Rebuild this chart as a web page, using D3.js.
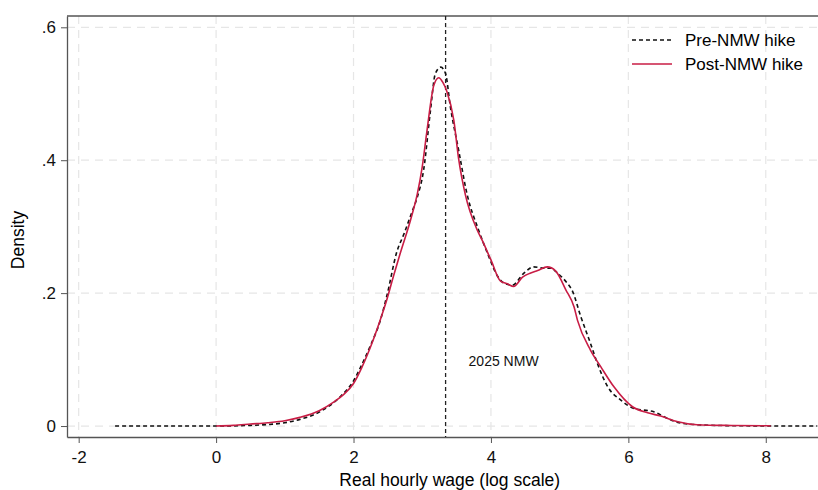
<!DOCTYPE html>
<html>
<head>
<meta charset="utf-8">
<style>
body { margin: 0; background: #fff; }
svg { display: block; font-family: "Liberation Sans", Arial, Helvetica, sans-serif; }
.grid line { stroke: #e6e6e6; stroke-width: 1.2; stroke-dasharray: 8,6; }
.axis path, .axis line { stroke: #555; }
.axis text { fill: #111; font-size: 17px; }
</style>
</head>
<body>

<svg id="chart" width="818" height="490"></svg>

<script src="https://d3js.org/d3.v7.min.js"></script>
<script>

// pre-NMW hike density (black dashed)
var preWage = [-1.47, -1, -0.5, 0, 0.5, 1.0, 1.22, 1.52, 1.81, 2.0, 2.1, 2.25, 2.39, 2.49, 2.63, 2.73, 2.85, 2.93, 3.02, 3.12, 3.19, 3.27, 3.34, 3.41, 3.53, 3.65, 3.82, 3.95, 4.1, 4.19, 4.31, 4.48, 4.62, 4.77, 4.87, 4.97, 5.11, 5.18, 5.31, 5.45, 5.55, 5.7, 5.89, 6.08, 6.37, 6.57, 6.72, 7.0, 7.5, 8.0, 8.75];
var preDensity = [0, 0, 0, 0, 0.001, 0.005, 0.01, 0.022, 0.0445, 0.068, 0.088, 0.122, 0.159, 0.198, 0.262, 0.288, 0.322, 0.345, 0.385, 0.475, 0.53, 0.54, 0.53, 0.48, 0.415, 0.35, 0.295, 0.26, 0.225, 0.215, 0.212, 0.23, 0.2395, 0.2375, 0.2375, 0.23, 0.215, 0.2045, 0.164, 0.124, 0.094, 0.059, 0.039, 0.0265, 0.0215, 0.0115, 0.0055, 0.002, 0.0005, 0.0002, 0];

// post-NMW hike density (red)
var postWage = [0, 0.25, 0.5, 0.75, 1.0, 1.22, 1.5, 1.71, 1.85, 2.0, 2.12, 2.24, 2.39, 2.49, 2.58, 2.68, 2.83, 2.93, 3.0, 3.07, 3.17, 3.24, 3.3, 3.36, 3.46, 3.53, 3.63, 3.8, 3.87, 4.0, 4.14, 4.24, 4.33, 4.46, 4.57, 4.68, 4.82, 4.94, 5.09, 5.21, 5.26, 5.45, 5.6, 5.79, 6.06, 6.28, 6.47, 6.72, 7.0, 7.5, 8.07];
var postDensity = [0, 0.001, 0.003, 0.005, 0.008, 0.013, 0.023, 0.036, 0.047, 0.064, 0.088, 0.117, 0.16, 0.192, 0.225, 0.26, 0.31, 0.35, 0.39, 0.445, 0.513, 0.524, 0.517, 0.503, 0.46, 0.402, 0.347, 0.295, 0.28, 0.25, 0.218, 0.214, 0.21, 0.224, 0.23, 0.234, 0.2395, 0.2335, 0.205, 0.179, 0.159, 0.114, 0.089, 0.059, 0.029, 0.02, 0.015, 0.0065, 0.002, 0.0008, 0.0003];

var xTicks = [-2, 0, 2, 4, 6, 8];
var xTickLabels = ["-2", "0", "2", "4", "6", "8"];
var yTicks = [0, 0.2, 0.4, 0.6];
var yTickLabels = ["0", ".2", ".4", ".6"];
var nmw2025 = 3.34;

var margin = {top: 16, right: 0, bottom: 53, left: 67},
    width = 818 - margin.left - margin.right,
    height = 490 - margin.top - margin.bottom;

var svg = d3.select("#chart");
var chart = svg.append("g")
    .attr("transform", "translate(" + margin.left + "," + margin.top + ")");

var xScale = d3.scaleLinear().domain([-2.17, 8.76]).range([0, width]);
var yScale = d3.scaleLinear().domain([-0.0165, 0.617]).range([height, 0]);

// gridlines
chart.append("g").attr("class", "grid")
    .selectAll("line").data(xTicks).enter().append("line")
    .attr("x1", function(d) { return xScale(d); })
    .attr("x2", function(d) { return xScale(d); })
    .attr("y1", 0).attr("y2", height);
chart.append("g").attr("class", "grid")
    .selectAll("line").data(yTicks).enter().append("line")
    .attr("x1", 0).attr("x2", width)
    .attr("y1", function(d) { return yScale(d); })
    .attr("y2", function(d) { return yScale(d); });

// axes
chart.append("g")
    .attr("class", "axis axis-x")
    .attr("transform", "translate(0," + height + ")")
    .call(d3.axisBottom(xScale).tickValues(xTicks).tickSize(6).tickPadding(8).tickSizeOuter(0)
        .tickFormat(function(d, i) { return xTickLabels[i]; }))
    .call(function(g) { g.select(".domain").attr("stroke-width", 1.3); });

chart.append("g")
    .attr("class", "axis axis-y")
    .call(d3.axisLeft(yScale).tickValues(yTicks).tickSize(6).tickPadding(5).tickSizeOuter(0)
        .tickFormat(function(d, i) { return yTickLabels[i]; }))
    .call(function(g) { g.select(".domain").attr("stroke-width", 1.3); });

// top frame line
chart.append("line")
    .attr("x1", 0).attr("x2", width).attr("y1", 0).attr("y2", 0)
    .attr("stroke", "#555").attr("stroke-width", 1.3);

// 2025 NMW reference line
chart.append("line")
    .attr("x1", xScale(nmw2025)).attr("x2", xScale(nmw2025))
    .attr("y1", 0).attr("y2", height)
    .attr("stroke", "#222").attr("stroke-width", 1.3)
    .attr("stroke-dasharray", "4,3");

chart.append("text")
    .attr("x", xScale(nmw2025) + 23).attr("y", yScale(0.09))
    .attr("font-size", 14).attr("fill", "#111")
    .text("2025 NMW");

var line = d3.line()
    .x(function(d) { return xScale(d[0]); })
    .y(function(d) { return yScale(d[1]); })
    .curve(d3.curveMonotoneX);

chart.append("path")
    .datum(d3.zip(preWage, preDensity))
    .attr("fill", "none").attr("stroke", "#111").attr("stroke-width", 1.6)
    .attr("stroke-dasharray", "4,3")
    .attr("d", line);

chart.append("path")
    .datum(d3.zip(postWage, postDensity))
    .attr("fill", "none").attr("stroke", "#c81d45").attr("stroke-width", 1.6)
    .attr("d", line);

// legend
var legend = svg.append("g").attr("transform", "translate(632,40)");
legend.append("line").attr("x1", 0).attr("x2", 40).attr("y1", 0).attr("y2", 0)
    .attr("stroke", "#111").attr("stroke-width", 1.6).attr("stroke-dasharray", "4,3");
legend.append("text").attr("x", 53).attr("y", 6).attr("font-size", 17).text("Pre-NMW hike");
legend.append("line").attr("x1", 0).attr("x2", 40).attr("y1", 24).attr("y2", 24)
    .attr("stroke", "#c81d45").attr("stroke-width", 1.6);
legend.append("text").attr("x", 53).attr("y", 30).attr("font-size", 17).text("Post-NMW hike");

// axis titles
svg.append("text")
    .attr("x", margin.left + xScale(3.4)).attr("y", 486)
    .attr("text-anchor", "middle").attr("font-size", 17.5)
    .text("Real hourly wage (log scale)");

svg.append("text")
    .attr("transform", "translate(24," + (margin.top + yScale(0.28)) + ") rotate(-90)")
    .attr("text-anchor", "middle").attr("font-size", 17.5)
    .text("Density");

</script>
</body>
</html>
